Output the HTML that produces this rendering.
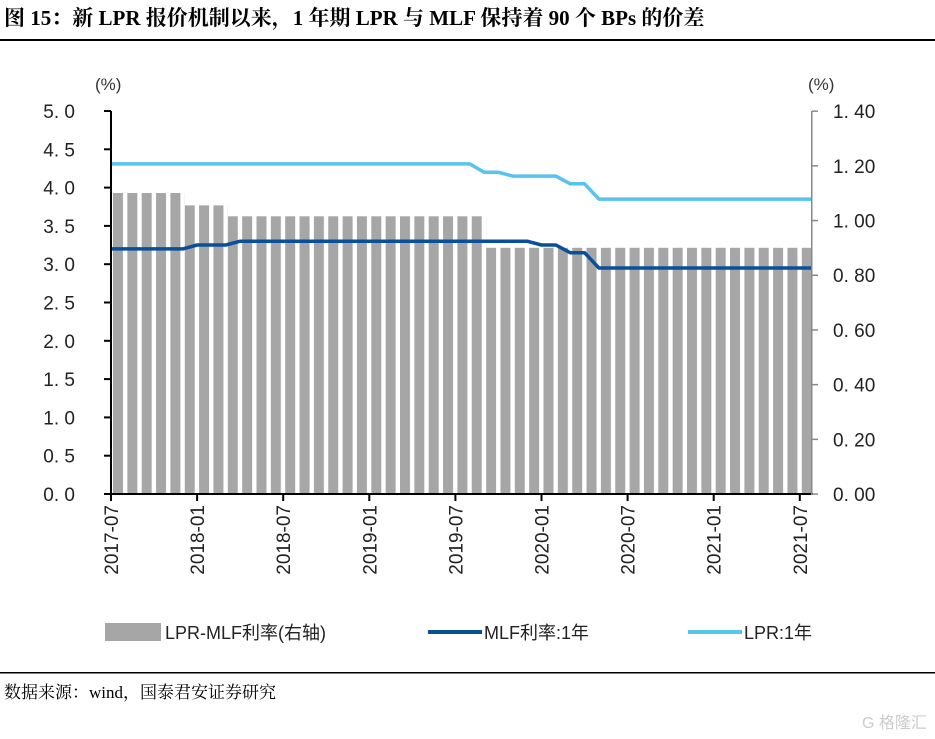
<!DOCTYPE html>
<html><head><meta charset="utf-8"><style>
body{margin:0;background:#fff;}
svg{display:block}
</style></head><body>
<svg width="935" height="739" xmlns="http://www.w3.org/2000/svg" font-family="'Liberation Sans','Noto Sans CJK SC',sans-serif">
<defs>
<pattern id="bp" patternUnits="userSpaceOnUse" x="113" y="0" width="14.35" height="739">
<rect x="0" y="0" width="10" height="739" fill="#a6a6a6"/>
</pattern>
</defs>
<text x="4" y="25" font-family="'Liberation Serif','Noto Serif CJK SC',serif" font-weight="bold" font-size="21" fill="#000">图 15：新 LPR 报价机制以来，1 年期 LPR 与 MLF 保持着 90 个 BPs 的价差</text>
<rect x="0" y="39" width="935" height="2" fill="#000"/>
<text x="95" y="90" font-size="17" fill="#333">(%)</text>
<text x="808" y="90" font-size="17" fill="#333">(%)</text>

<rect x="113" y="193" width="71.75" height="301" fill="url(#bp)"/>
<rect x="184.75" y="205.4" width="43.05" height="288.6" fill="url(#bp)"/>
<rect x="227.8" y="216.3" width="258.3" height="277.7" fill="url(#bp)"/>
<rect x="486.1" y="247.8" width="326" height="246.2" fill="url(#bp)"/>

<polyline points="111,163.9 469.75,163.9 484.1,172.3 498.45,172.3 512.8,176.1 555.85,176.1 570.2,183.8 584.55,183.8 598.9,199.1 812,199.1" fill="none" stroke="#57c3ef" stroke-width="3.5" stroke-linejoin="round"/>
<polyline points="111,248.9 182.75,248.9 197.1,245 225.8,245 240.15,241.2 527.15,241.2 541.5,245 555.85,245 570.2,252.7 584.55,252.7 598.9,268 812,268" fill="none" stroke="#0a4f9c" stroke-width="3.5" stroke-linejoin="round"/>

<rect x="110" y="111" width="2" height="384" fill="#000"/>
<rect x="110" y="493" width="703" height="2" fill="#000"/>
<rect x="811" y="111" width="1.5" height="384" fill="#888"/>

<g fill="#000">
<rect x="104" y="493" width="7" height="2"/><rect x="104" y="454.7" width="7" height="2"/><rect x="104" y="416.4" width="7" height="2"/><rect x="104" y="378.1" width="7" height="2"/><rect x="104" y="339.8" width="7" height="2"/><rect x="104" y="301.5" width="7" height="2"/><rect x="104" y="263.2" width="7" height="2"/><rect x="104" y="224.9" width="7" height="2"/><rect x="104" y="186.6" width="7" height="2"/><rect x="104" y="148.3" width="7" height="2"/><rect x="104" y="110" width="7" height="2"/>
</g>
<g font-size="19" fill="#222" text-anchor="end">
<text x="75" y="501">0. 0</text><text x="75" y="462.7">0. 5</text><text x="75" y="424.4">1. 0</text><text x="75" y="386.1">1. 5</text><text x="75" y="347.8">2. 0</text><text x="75" y="309.5">2. 5</text><text x="75" y="271.2">3. 0</text><text x="75" y="232.9">3. 5</text><text x="75" y="194.6">4. 0</text><text x="75" y="156.3">4. 5</text><text x="75" y="118">5. 0</text>
</g>
<g fill="#888">
<rect x="812" y="493.3" width="6" height="1.5"/><rect x="812" y="438.6" width="6" height="1.5"/><rect x="812" y="383.9" width="6" height="1.5"/><rect x="812" y="329.2" width="6" height="1.5"/><rect x="812" y="274.5" width="6" height="1.5"/><rect x="812" y="219.8" width="6" height="1.5"/><rect x="812" y="165.1" width="6" height="1.5"/><rect x="812" y="110.4" width="6" height="1.5"/>
</g>
<g font-size="19" fill="#222">
<text x="833" y="501">0. 00</text><text x="833" y="446.3">0. 20</text><text x="833" y="391.6">0. 40</text><text x="833" y="336.9">0. 60</text><text x="833" y="282.2">0. 80</text><text x="833" y="227.5">1. 00</text><text x="833" y="172.8">1. 20</text><text x="833" y="118.1">1. 40</text>
</g>
<g fill="#000">
<rect x="110" y="494" width="2" height="7"/><rect x="196.1" y="494" width="2" height="7"/><rect x="282.2" y="494" width="2" height="7"/><rect x="368.3" y="494" width="2" height="7"/><rect x="454.4" y="494" width="2" height="7"/><rect x="540.5" y="494" width="2" height="7"/><rect x="626.6" y="494" width="2" height="7"/><rect x="712.7" y="494" width="2" height="7"/><rect x="798.8" y="494" width="2" height="7"/>
</g>
<g font-size="19" fill="#222" text-anchor="end">
<text transform="translate(118,505) rotate(-90)">2017-07</text>
<text transform="translate(204.1,505) rotate(-90)">2018-01</text>
<text transform="translate(290.2,505) rotate(-90)">2018-07</text>
<text transform="translate(376.3,505) rotate(-90)">2019-01</text>
<text transform="translate(462.4,505) rotate(-90)">2019-07</text>
<text transform="translate(548.5,505) rotate(-90)">2020-01</text>
<text transform="translate(634.6,505) rotate(-90)">2020-07</text>
<text transform="translate(720.7,505) rotate(-90)">2021-01</text>
<text transform="translate(806.8,505) rotate(-90)">2021-07</text>
</g>

<rect x="105" y="623" width="56" height="18" fill="#a6a6a6"/>
<text x="165" y="639" font-size="18" fill="#222">LPR-MLF利率(右轴)</text>
<rect x="428" y="630" width="54" height="4" fill="#0a4f9c"/>
<text x="484" y="639" font-size="18" fill="#222">MLF利率:1年</text>
<rect x="688" y="630" width="54" height="4" fill="#57c3ef"/>
<text x="744" y="639" font-size="18" fill="#222">LPR:1年</text>
<rect x="0" y="672" width="935" height="1.5" fill="#000"/>
<text x="4" y="698" font-family="'Liberation Serif','Noto Serif CJK SC',serif" font-size="17" fill="#000">数据来源：wind，国泰君安证券研究</text>
<text x="862" y="728" font-size="16" fill="#ccc">G 格隆汇</text>
</svg>
</body></html>
